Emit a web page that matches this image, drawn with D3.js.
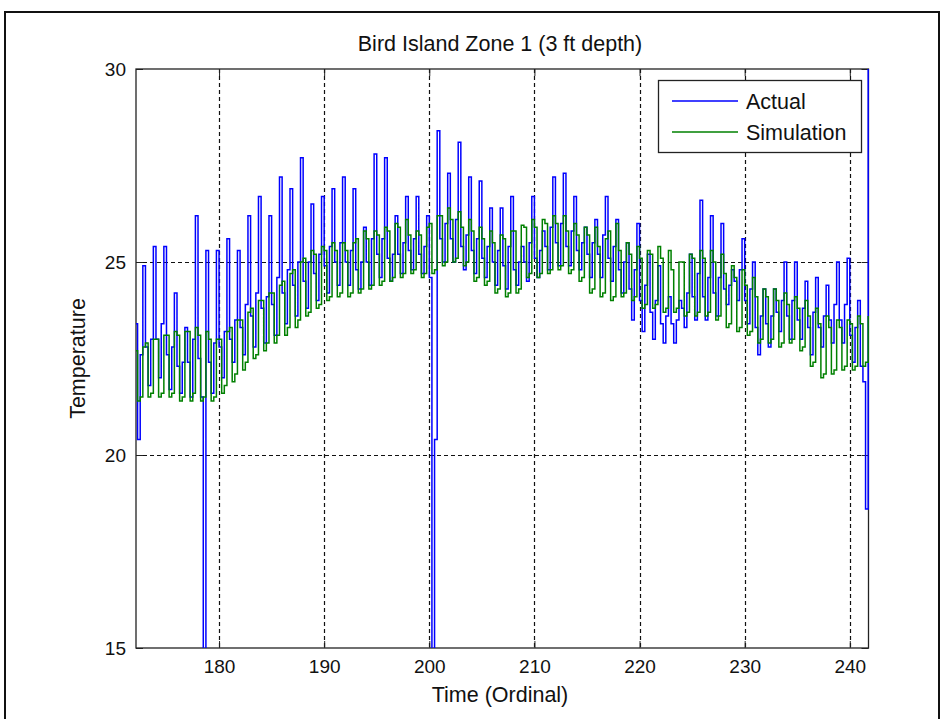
<!DOCTYPE html>
<html>
<head>
<meta charset="utf-8">
<script src="https://cdn.jsdelivr.net/npm/d3@7"></script>
<style>
  html, body { margin: 0; padding: 0; background: #fff; }
  svg text { font-family: Arial, "Liberation Sans", Helvetica, sans-serif; fill: #111; }
</style>
</head>
<body>
<svg id="chart" width="945" height="719"></svg>
<script>
// ---------------- DATA ----------------
const title = "Bird Island Zone 1 (3 ft depth)";
const xLabel = "Time (Ordinal)";
const yLabel = "Temperature";
const seriesNames = ["Actual", "Simulation"];
const xTicks = [180, 190, 200, 210, 220, 230, 240];
const yTicks = [15, 20, 25, 30];
const xDomain = [172.1, 241.78];
const yDomain = [15, 30];

// day ordinals (one row of readings per day)
const days = [172,173,174,175,176,177,178,179,180,181,182,183,184,185,186,187,188,189,190,191,
  192,193,194,195,196,197,198,199,200,201,202,203,204,205,206,207,208,209,210,211,
  212,213,214,215,216,217,218,219,220,221,222,223,224,225,226,227,228,229,230,231,
  232,233,234,235,236,237,238,239,240,241];
// time of day of each reading within a row (fraction of a day)
const sampleOffsets = [0, 0.25, 0.5, 0.75];

// Actual (measured) temperature, four readings per day
const actual = [
  [23.4,20.4,22.6,24.9],[22.8,21.8,23.0,25.4],[23.0,22.0,23.4,25.4],[22.6,21.7,22.8,24.2],
  [22.3,21.6,22.4,23.3],[22.4,21.5,23.0,26.2],[22.5,21.5,12.0,25.3],[22.4,21.6,22.9,25.3],
  [22.8,22.0,23.2,25.6],[23.0,22.4,23.5,25.3],[23.3,22.6,23.9,26.2],[23.6,22.8,24.2,26.7],
  [23.8,22.9,24.1,26.2],[23.9,23.1,24.6,27.2],[24.2,23.4,24.8,26.9],[24.4,23.6,25.0,27.7],
  [24.5,23.8,25.0,26.5],[24.7,24.0,25.2,26.7],[24.9,24.2,25.4,26.9],[25.0,24.4,25.5,27.2],
  [25.0,24.4,25.3,26.9],[24.8,24.3,25.0,25.9],[25.0,24.4,25.6,27.8],[25.2,24.6,25.6,27.7],
  [25.1,24.5,25.2,26.2],[25.2,24.7,25.5,26.7],[25.3,24.8,25.6,26.7],[25.2,24.7,25.4,26.2],
  [24.6,12.0,20.4,28.4],[25.6,25.0,26.0,27.3],[25.6,25.0,26.1,28.1],[25.4,24.8,25.7,27.2],
  [25.3,24.7,25.6,27.1],[25.1,24.6,25.4,26.4],[25.0,24.4,25.3,26.4],[24.9,24.3,25.4,26.7],
  [24.8,24.4,25.0,25.4],[25.0,24.5,25.5,26.7],[25.1,24.6,25.3,25.8],[25.4,24.8,25.9,27.2],
  [25.5,24.9,26.0,27.3],[25.4,24.9,25.8,26.7],[25.3,24.8,25.5,25.9],[25.2,24.6,25.5,26.1],
  [25.2,24.6,25.7,26.7],[25.1,24.5,25.4,26.1],[24.8,24.2,25.0,25.5],[24.3,23.5,24.8,26.0],
  [24.0,23.2,24.4,25.2],[23.7,23.0,24.0,24.9],[23.4,22.9,23.6,24.1],[23.4,22.9,23.5,24.0],
  [23.8,23.3,24.2,25.2],[24.1,23.5,24.7,26.6],[24.1,23.5,24.6,26.2],[24.2,23.6,24.6,26.0],
  [24.3,23.9,24.4,24.8],[24.5,24.0,24.8,25.6],[24.0,23.4,24.3,25.0],[23.3,22.6,23.6,24.3],
  [23.4,22.8,23.6,24.3],[23.7,23.2,24.0,25.0],[23.6,23.0,24.0,25.0],[23.5,23.0,23.8,24.5],
  [23.3,22.6,23.7,24.6],[23.3,22.8,23.6,24.4],[23.5,22.9,23.9,25.0],[23.5,22.9,23.9,25.1],
  [23.1,22.4,23.3,24.0],[22.3,21.9,18.6,31.5]
];

// Simulation temperature, four readings per day
const simulation = [
  [22.7,21.4,21.5,22.8],[22.9,21.5,21.6,23.0],[23.0,21.5,21.6,23.1],[23.1,21.5,21.6,23.2],
  [23.1,21.4,21.5,23.2],[23.2,21.4,21.6,23.3],[23.1,21.4,21.5,23.2],[23.0,21.4,21.5,23.0],
  [23.0,21.6,21.8,23.2],[23.3,21.9,22.1,23.5],[23.5,22.2,22.4,23.7],[23.8,22.5,22.6,24.0],
  [24.0,22.7,22.9,24.2],[24.2,22.9,23.1,24.4],[24.5,23.1,23.3,24.7],[24.8,23.3,23.5,25.0],
  [25.1,23.6,23.7,25.3],[25.2,23.8,23.9,25.4],[25.3,24.0,24.1,25.5],[25.3,24.1,24.2,25.5],
  [25.3,24.1,24.2,25.5],[25.6,24.2,24.3,25.8],[25.6,24.3,24.4,25.8],[25.7,24.4,24.5,25.9],
  [25.8,24.5,24.6,26.0],[25.9,24.6,24.7,26.1],[25.7,24.7,24.8,25.8],[25.7,24.6,24.7,25.9],
  [26.0,24.7,24.8,26.2],[26.2,24.9,25.0,26.4],[26.1,25.0,25.1,26.3],[25.9,24.9,25.0,26.1],
  [25.8,24.5,24.6,25.9],[25.6,24.4,24.5,25.8],[25.5,24.2,24.3,25.7],[25.6,24.1,24.2,25.8],
  [25.8,24.2,24.3,25.95],[25.9,24.6,24.7,26.1],[25.9,24.6,24.7,26.1],[26.0,24.7,24.8,26.2],
  [26.0,24.8,24.9,26.2],[25.8,24.7,24.8,26.0],[25.7,24.5,24.6,25.9],[25.7,24.2,24.3,25.9],
  [25.4,24.1,24.2,25.6],[25.8,24.0,24.1,26.0],[25.3,24.1,24.2,25.5],[25.2,24.0,24.1,25.4],
  [25.1,23.8,23.9,25.3],[25.2,23.8,23.9,25.4],[25.1,23.7,23.8,25.3],[24.8,23.7,23.8,25.0],
  [25.0,23.6,23.7,25.2],[25.1,23.6,23.7,25.3],[25.1,23.6,23.7,25.3],[25.0,23.5,23.6,25.2],
  [24.7,23.3,23.4,24.9],[24.6,23.2,23.3,24.8],[24.4,23.1,23.2,24.6],[24.1,22.9,23.0,24.3],
  [24.1,22.9,23.0,24.3],[24.0,22.8,22.9,24.2],[23.9,22.9,23.0,24.1],[23.8,22.7,22.8,24.0],
  [23.6,22.3,22.4,23.8],[23.4,22.0,22.1,23.6],[23.3,22.1,22.2,23.5],[23.3,22.2,22.3,23.5],
  [23.4,22.2,22.3,23.6],[23.4,22.3,22.4,23.6]
];

const seriesColors = ["#0000ff", "#008000"];

// ---------------- CHART ----------------
const svg = d3.select("#chart");
const plot = { left: 136, right: 868.5, top: 69, bottom: 648 };

const x = d3.scaleLinear().domain(xDomain).range([plot.left, plot.right]);
const y = d3.scaleLinear().domain(yDomain).range([plot.bottom, plot.top]);

function flatten(rows) {
  const pts = [];
  rows.forEach((row, i) => row.forEach((v, k) => pts.push([days[i] + sampleOffsets[k], v])));
  return pts;
}

// outer figure frame
svg.append("rect").attr("x", 5).attr("y", 12).attr("width", 934).attr("height", 720)
  .attr("fill", "none").attr("stroke", "#111").attr("stroke-width", 2);

// plot background
svg.append("rect").attr("x", plot.left).attr("y", plot.top)
  .attr("width", plot.right - plot.left).attr("height", plot.bottom - plot.top)
  .attr("fill", "#fff");

// grid
const grid = svg.append("g").attr("stroke", "#111").attr("stroke-width", 1.2).attr("stroke-dasharray", "4,3");
grid.selectAll("line.gx").data(xTicks).join("line")
  .attr("x1", d => Math.round(x(d)) + 0.5).attr("x2", d => Math.round(x(d)) + 0.5)
  .attr("y1", plot.top).attr("y2", plot.bottom);
grid.selectAll("line.gy").data(yTicks.filter(d => d > yDomain[0] && d < yDomain[1])).join("line")
  .attr("y1", d => Math.round(y(d)) + 0.5).attr("y2", d => Math.round(y(d)) + 0.5)
  .attr("x1", plot.left).attr("x2", plot.right);

// axes (inside ticks on all four sides)
const tickLen = 7;
const axB = d3.axisBottom(x).tickValues(xTicks).tickSize(-tickLen).tickPadding(12).tickFormat(d3.format("d"));
const axT = d3.axisTop(x).tickValues(xTicks).tickSize(-tickLen).tickFormat("");
const axL = d3.axisLeft(y).tickValues(yTicks).tickSize(-tickLen).tickPadding(10).tickFormat(d3.format("d"));
const axR = d3.axisRight(y).tickValues(yTicks).tickSize(-tickLen).tickFormat("");

function styleAxis(g) {
  g.select(".domain").remove();
  g.selectAll(".tick line").attr("stroke", "#222").attr("stroke-width", 1);
  g.selectAll(".tick text").attr("font-size", 19).attr("fill", "#111");
}
svg.append("g").attr("transform", `translate(0,${plot.bottom})`).call(axB).call(styleAxis);
svg.append("g").attr("transform", `translate(0,${plot.top})`).call(axT).call(styleAxis);
svg.append("g").attr("transform", `translate(${plot.left},0)`).call(axL).call(styleAxis);
svg.append("g").attr("transform", `translate(${plot.right},0)`).call(axR).call(styleAxis);

// axes box
svg.append("rect").attr("x", plot.left).attr("y", plot.top)
  .attr("width", plot.right - plot.left).attr("height", plot.bottom - plot.top)
  .attr("fill", "none").attr("stroke", "#222").attr("stroke-width", 1.3);

// clip (data drawn on top of the axes box, as in the original)
svg.append("clipPath").attr("id", "clip").append("rect")
  .attr("x", plot.left).attr("y", plot.top)
  .attr("width", plot.right - plot.left + 1).attr("height", plot.bottom - plot.top);

const line = d3.line().curve(d3.curveStepAfter).x(d => x(d[0])).y(d => y(d[1]));
const lines = svg.append("g").attr("clip-path", "url(#clip)");
[actual, simulation].forEach((rows, i) => {
  lines.append("path").datum(flatten(rows))
    .attr("fill", "none").attr("stroke", seriesColors[i]).attr("stroke-width", 1.5)
    .attr("stroke-linejoin", "miter").attr("d", line);
});

// title & labels
svg.append("text").attr("x", 500).attr("y", 51)
  .attr("text-anchor", "middle").attr("font-size", 21.5).text(title);
svg.append("text").attr("x", 500).attr("y", 702)
  .attr("text-anchor", "middle").attr("font-size", 21.5).text(xLabel);
svg.append("text").attr("transform", `translate(85,${(plot.top + plot.bottom) / 2}) rotate(-90)`)
  .attr("text-anchor", "middle").attr("font-size", 21.5).text(yLabel);

// legend
const lg = svg.append("g").attr("transform", "translate(658,80)");
lg.append("rect").attr("x", 0.5).attr("y", 0.5).attr("width", 203).attr("height", 72)
  .attr("fill", "#fff").attr("stroke", "#222").attr("stroke-width", 1.3);
seriesNames.forEach((name, i) => {
  const yy = 21 + i * 31;
  lg.append("line").attr("x1", 14).attr("x2", 80).attr("y1", yy).attr("y2", yy)
    .attr("stroke", seriesColors[i]).attr("stroke-width", 1.4);
  lg.append("text").attr("x", 88).attr("y", yy).attr("dy", "0.35em")
    .attr("font-size", 21.5).text(name);
});
</script>
</body>
</html>
